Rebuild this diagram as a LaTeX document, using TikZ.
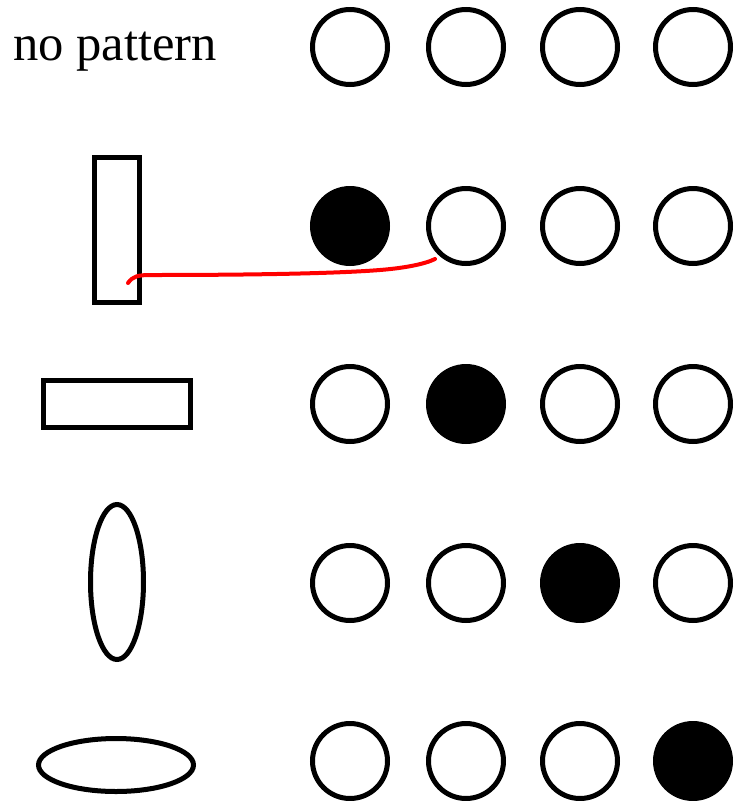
\documentclass[tikz,border=0pt]{standalone}
\usepackage{fontspec}
\setmainfont{Liberation Serif}
\usetikzlibrary{shapes.geometric}
\tikzset{
  dot/.style={circle, draw=black, line width=5pt, minimum size=75pt, inner sep=0pt, fill=white},
  dotfull/.style={dot, fill=black},
  shapebox/.style={rectangle, draw=black, line width=5.5pt, inner sep=0pt},
  oval/.style={ellipse, draw=black, line width=5pt, inner sep=0pt},
  redline/.style={draw=red, line width=4pt, line cap=round}
}
\begin{document}
\begin{tikzpicture}[x=1pt,y=-1pt]
\useasboundingbox (0,0) rectangle (735,801);
% left column
\node[anchor=base west, inner sep=0pt, font=\fontsize{50.6}{60}\selectfont] (lbl) at (13,60) {no pattern};
\node[shapebox, minimum width=45pt, minimum height=145pt] (vrect) at (117,230) {};
\node[shapebox, minimum width=147pt, minimum height=47pt] (hrect) at (117,404) {};
\node[oval, minimum width=53pt, minimum height=155pt] (vell) at (117,582) {};
\node[oval, minimum width=155pt, minimum height=53pt] (hell) at (116,765) {};
% row 1
\node[dot] (c11) at (350,47) {};
\node[dot] (c12) at (466,47) {};
\node[dot] (c13) at (580,47) {};
\node[dot] (c14) at (693,47) {};
% row 2
\node[dotfull] (c21) at (350,226) {};
\node[dot] (c22) at (466,226) {};
\node[dot] (c23) at (580,226) {};
\node[dot] (c24) at (693,226) {};
% row 3
\node[dot] (c31) at (350,404) {};
\node[dotfull] (c32) at (466,404) {};
\node[dot] (c33) at (580,404) {};
\node[dot] (c34) at (693,404) {};
% row 4
\node[dot] (c41) at (350,583) {};
\node[dot] (c42) at (466,583) {};
\node[dotfull] (c43) at (580,583) {};
\node[dot] (c44) at (693,583) {};
% row 5
\node[dot] (c51) at (350,761) {};
\node[dot] (c52) at (466,761) {};
\node[dot] (c53) at (580,761) {};
\node[dotfull] (c54) at (693,761) {};
% red annotation line
\coordinate (rs) at (128,283);
\coordinate (re) at (435,259);
\draw[redline] (rs) .. controls (133,276) and (138,275) .. (152,275)
  .. controls (230,275) and (330,274) .. (380,270)
  .. controls (405,268) and (425,264) .. (re);
\end{tikzpicture}
\end{document}
